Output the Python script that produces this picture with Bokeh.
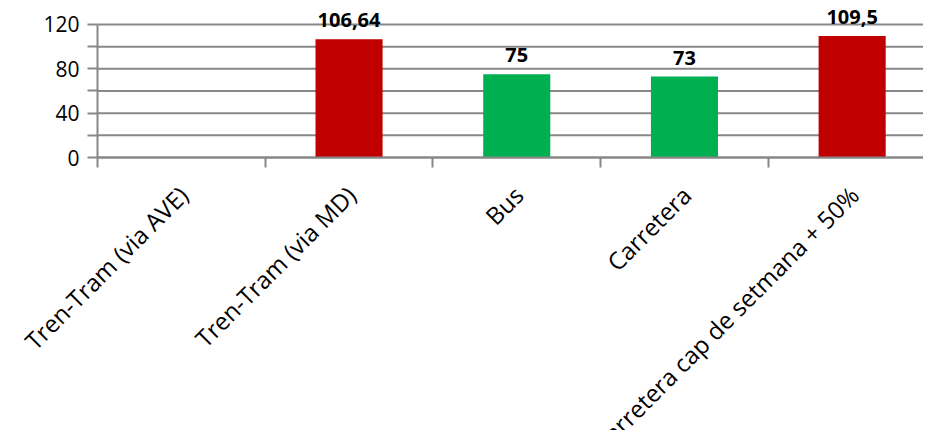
import math
from bokeh.plotting import figure
from bokeh.models import ColumnDataSource, FixedTicker, Range1d, LabelSet
from bokeh.core.properties import value
from bokeh.embed import file_html
from bokeh.resources import INLINE

# ---- data ----
categories = ["Tren-Tram (via AVE)", "Tren-Tram (via MD)", "Bus", "Carretera",
              "Carretera cap de setmana + 50%"]
values = [float("nan"), 106.64, 75, 73, 109.5]
bar_colors = ["#C00000", "#C00000", "#00B050", "#00B050", "#C00000"]
y_major_ticks = [0, 40, 80, 120]
y_minor_ticks = [20, 60, 100]

centers = [i + 0.5 for i in range(len(categories))]
boundaries = [i for i in range(len(categories) + 1)]
labels = ["" if math.isnan(v) else f"{v:g}".replace(".", ",") for v in values]

GRID = "#878787"
FONT = "Open Sans"

# ---- layout constants (pixels) ----
W, H = 923, 430
TOP = 8
AXIS_PX = 97                       # x pixel of the value axis
CAT_PX = 167.7                     # pixels per category
ZERO_PX = 149                      # distance from frame top to the y=0 line
Y_END = 134.4
px_per_unit = ZERO_PX / Y_END
frame_h = H - TOP
Y_START = -(frame_h - ZERO_PX) / px_per_unit
X_START = -AXIS_PX / CAT_PX
X_END = (W - AXIS_PX) / CAT_PX
cat_label_y = -33 / px_per_unit    # rotated labels: 33 px below the axis

src = ColumnDataSource(dict(x=centers, top=values, color=bar_colors, label=labels))
cat_src = ColumnDataSource(dict(x=centers, y=[cat_label_y] * len(categories), name=categories))
all_ticks = sorted(y_major_ticks + y_minor_ticks)
grid_src = ColumnDataSource(dict(x0=[boundaries[0]] * len(all_ticks),
                                 x1=[boundaries[-1]] * len(all_ticks),
                                 y=all_ticks))

p = figure(width=W, height=H, x_range=Range1d(X_START, X_END), y_range=Range1d(Y_START, Y_END),
           output_backend="svg", toolbar_location=None,
           min_border_left=0, min_border_right=0, min_border_top=TOP, min_border_bottom=0)
p.outline_line_color = None
p.background_fill_color = "white"
p.border_fill_color = "white"
p.xgrid.visible = False
p.ygrid.visible = False

# horizontal grid lines (start at the value axis)
p.segment(x0="x0", x1="x1", y0="y", y1="y", source=grid_src,
          line_color=GRID, line_width=2, level="underlay")

# y axis placed at x = 0
p.yaxis.fixed_location = 0
p.yaxis.ticker = FixedTicker(ticks=y_major_ticks, minor_ticks=y_minor_ticks)
p.yaxis.bounds = (0, 120)
p.yaxis.axis_line_color = GRID
p.yaxis.axis_line_width = 2
p.yaxis.major_tick_line_color = GRID
p.yaxis.major_tick_line_width = 2
p.yaxis.minor_tick_line_color = GRID
p.yaxis.minor_tick_line_width = 2
p.yaxis.major_tick_out = 10
p.yaxis.major_tick_in = 0
p.yaxis.minor_tick_out = 10
p.yaxis.minor_tick_in = 0
p.yaxis.major_label_standoff = 8
p.yaxis.major_label_text_font = FONT
p.yaxis.major_label_text_font_size = "21px"
p.yaxis.major_label_text_color = "black"

# x axis at y = 0: ticks at category boundaries, labels drawn separately
p.xaxis.fixed_location = 0
p.xaxis.ticker = FixedTicker(ticks=boundaries)
p.xaxis.bounds = (boundaries[0], boundaries[-1])
p.xaxis.major_label_overrides = {b: "" for b in boundaries}
p.xaxis.major_label_standoff = 0
p.xaxis.axis_line_color = GRID
p.xaxis.axis_line_width = 2
p.xaxis.major_tick_out = 10
p.xaxis.major_tick_in = 0
p.xaxis.major_tick_line_color = GRID
p.xaxis.major_tick_line_width = 2
p.xaxis.minor_tick_line_color = None

# bars
p.vbar(x="x", top="top", width=0.4, bottom=0, color="color", line_color=None, source=src)

# data labels
p.text(x="x", y="top", text="label", source=src, y_offset=-12,
       text_align="center", text_baseline="bottom",
       text_font=value(FONT), text_font_style="bold", text_font_size="20px",
       text_color="black")

# category labels (rotated)
p.add_layout(LabelSet(x="x", y="y", text="name", source=cat_src, angle=math.pi / 4,
                      x_offset=2, text_align="right", text_baseline="middle",
                      text_font=value(FONT), text_font_size="24px", text_color="black"))

open("out.html", "w").write(file_html(p, INLINE))
